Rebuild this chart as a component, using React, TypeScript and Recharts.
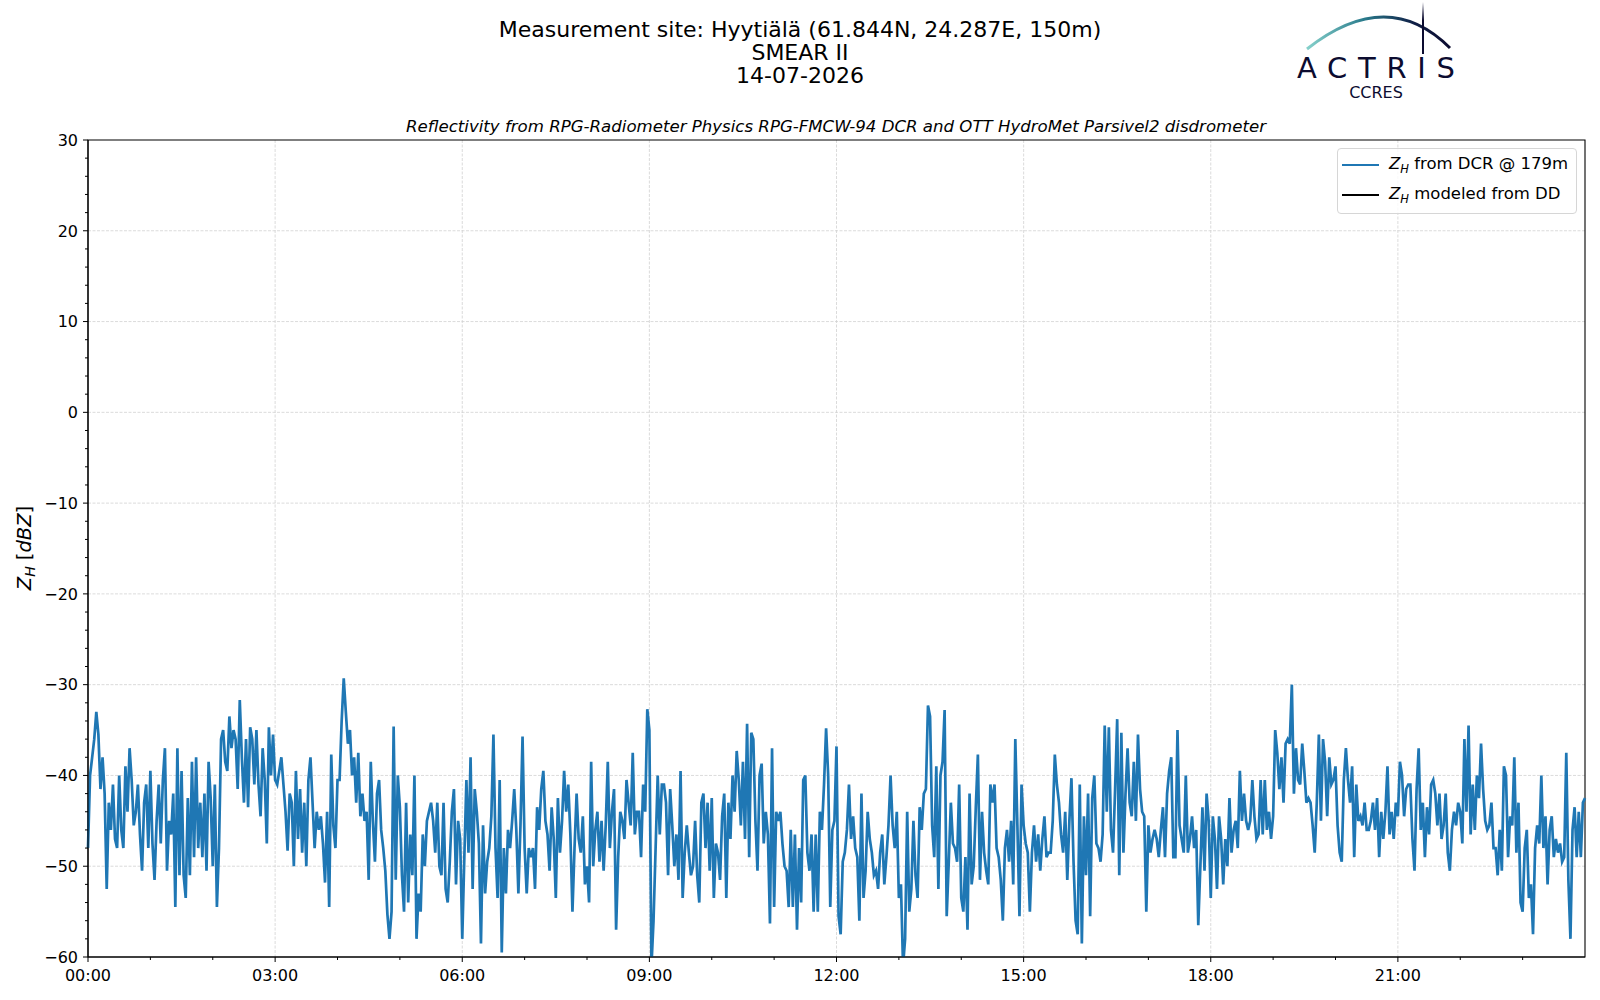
import {
  CartesianGrid,
  Legend,
  Line,
  LineChart,
  ReferenceArea,
  XAxis,
  YAxis,
} from "recharts";

// Z_H from the DCR at 179 m [dBZ], one value every 2 minutes, three hours per array
const SAMPLE_MINUTES = 2;

const dcr00to03 = [
  -48, -40, -38, -36, -33, -35.5, -41.5, -38, -42, -52.5, -43, -46, -41, -47, -48, -40, -46, -48, -39, -44, -37, -40.5, -45.5, -44, -41, -46.5, -50.5, -43, -41, -48,
  -39.5, -47.5, -51.5, -45, -41, -47.5, -40.5, -37, -50.5, -45, -46.5, -42, -54.5, -37, -51, -39.5, -51, -53.5, -42.5, -51, -38.5, -49, -38, -48, -43, -49, -42, -50.5, -38.5, -42.5,
  -50, -41, -54.5, -48, -36, -35, -38.5, -39.5, -33.5, -37, -35, -36, -41.5, -31.7, -38, -43, -36, -43.5, -34.7, -36, -41, -35, -41, -44.5, -37, -40.5, -47.5, -34.7, -40, -35.5,
];
const dcr03to06 = [
  -40.5, -41, -39.5, -38, -41, -44, -48.3, -42, -43, -50, -39.5, -47, -41.5, -48.5, -43, -50, -40.5, -38, -43, -48, -44, -46, -44.5, -47.5, -51.8, -44, -54.5, -37.7, -45.5, -48,
  -40.5, -40.5, -34, -29.3, -33, -36.5, -35, -40, -38, -43, -37.5, -44.5, -42, -45, -44, -51.5, -38.5, -45, -49.5, -42, -40.5, -46, -48, -50.5, -55.3, -58, -55, -34.6, -51.5, -40,
  -43.5, -51, -55, -43, -54, -46.5, -51, -40, -58, -53, -55, -46.5, -50, -45, -44, -43, -45, -48.5, -43, -50, -51, -43, -52.5, -54, -49.5, -44, -41.5, -52, -45, -47,
];
const dcr06to09 = [
  -58, -49, -40.5, -48.5, -38, -52.5, -41.5, -44, -47.5, -58.5, -45.5, -53, -49.5, -48, -44.5, -35.5, -48, -53.5, -40.5, -59.5, -48, -53, -46, -48, -45, -41.5, -46, -53, -45.5, -35.7,
  -48, -53, -48, -49, -48, -52.5, -43.5, -46, -41.5, -39.5, -45, -46.5, -50.5, -43.5, -47, -53.5, -42.5, -48.5, -45, -39.5, -44, -41, -46.5, -55, -48, -42, -47, -48.5, -44.5, -52,
  -50, -54, -38.5, -50, -46, -44, -49.5, -45, -50.5, -45.5, -38.5, -48, -44, -41.5, -57, -49, -44, -45, -47, -40.5, -43, -45.5, -37.5, -46.5, -44, -44, -49, -41, -44, -32.7,
];
const dcr09to12 = [
  -35, -61, -56, -48, -40, -46.5, -41, -41, -43, -51, -41.5, -45.5, -50, -46.5, -51.5, -39.5, -53.5, -48.5, -45.5, -48.5, -51, -50, -45, -51, -54, -43, -42, -48, -43, -50.5,
  -42.5, -53.5, -47.5, -48.5, -51.5, -44.5, -42, -53.5, -43, -47, -40, -44, -37.3, -40.5, -45.5, -38.5, -47, -34.3, -49, -35.3, -36, -45, -50.5, -40, -38.7, -47.5, -44, -46.5, -56.3, -37,
  -54.5, -44, -45, -44, -47.5, -50, -50.5, -54.5, -46, -54.5, -46.5, -57, -48, -54, -40.5, -40, -48.5, -50.5, -46.5, -55, -46.5, -55, -44, -46, -41, -34.8, -40, -54.5, -46, -45,
];
const dcr12to15 = [
  -36.8, -55.5, -57.5, -49.5, -48.5, -46, -41, -47, -44.5, -48, -49, -56, -42, -53.5, -50.5, -44, -47, -48.5, -51, -50.5, -52.5, -48.5, -46.5, -52, -49, -45.5, -40, -45.5, -48, -44,
  -53.5, -52, -61, -58, -44, -55, -52.5, -45, -51, -53.5, -43.5, -46, -42, -41.5, -32.3, -33.5, -45.5, -49, -39, -52.5, -40, -38.5, -32.8, -55.5, -49.5, -43, -47.5, -48, -49.5, -41,
  -53.5, -55, -49, -57, -42, -52, -50, -43.5, -37.7, -51.5, -44, -48.5, -50.5, -52, -41, -43, -41, -48, -49, -51.5, -56, -48, -46, -49.5, -45, -52, -36, -45.5, -55.5, -41,
];
const dcr15to18 = [
  -45.5, -47.5, -48.5, -55, -48.5, -45.5, -49.5, -46.5, -50.5, -47, -44.5, -49, -48.5, -48.5, -45, -37.7, -41, -43, -46.5, -48.5, -44, -51.5, -45, -40.3, -49.5, -56, -57.5, -41, -58.5, -44.5,
  -51, -42, -55.5, -42.5, -40, -47.5, -48, -49.5, -46.5, -34.5, -44, -34.7, -46, -48.5, -41.5, -33.8, -51, -35.3, -48.5, -42, -37, -43, -44.5, -38.5, -45, -35.5, -41.5, -44, -44.5, -55,
  -45.5, -48.5, -47, -46, -47, -49, -46, -43.5, -49, -42, -39.5, -38, -49, -49, -35, -45.5, -47, -48.5, -40, -48.5, -47, -44.5, -48, -46, -56.5, -50, -43.5, -50.5, -42, -45,
];
const dcr18to21 = [
  -53.5, -44.5, -47, -52.5, -44.5, -47, -52, -47, -50, -42.5, -48.5, -46, -45, -48, -39.5, -45, -42, -45, -46, -45, -40.5, -44.5, -47, -46.5, -40.5, -46.5, -40.5, -46, -44, -47,
  -44.5, -35, -37.5, -41.5, -38, -43, -36.5, -36, -36.5, -30, -42, -37, -40.5, -41, -36.5, -39.5, -43, -42.5, -43, -45.5, -48.5, -43, -35.5, -45, -36, -38.5, -44.5, -38, -41, -40.5,
  -39, -45.5, -48.5, -49.5, -40.5, -37, -40.5, -43, -39, -49, -41, -45, -44.5, -45.5, -43, -46, -46, -45, -43, -46, -42.5, -49, -44, -47, -44, -39, -46.5, -44, -47, -43,
];
// last value is the sample at 24:00
const dcr21to24 = [
  -44.5, -38.5, -40, -44.5, -41.5, -41, -41, -47, -50.5, -41.5, -37, -46, -43, -49, -43.5, -46.5, -41, -40.5, -42, -45.5, -42, -47, -45.5, -42, -48.5, -50.5, -46, -44, -45.5, -43,
  -44, -47.5, -36, -44, -34.5, -46.5, -41, -46, -40, -42.5, -36.5, -41.5, -45, -46, -45.5, -43, -48, -48, -51, -46, -50.5, -39, -40, -49, -44.5, -45.5, -38, -48.5, -43, -54,
  -55, -48, -46, -53.5, -52, -57.5, -48, -45.5, -47.5, -40, -48, -44.5, -52, -46, -44.5, -49, -47, -48.5, -47.5, -49.5, -49, -37.5, -51.5, -58, -46, -43.5, -49, -44, -49, -43,
  -42.5,
];

const dcrValues = [
  ...dcr00to03, ...dcr03to06, ...dcr06to09, ...dcr09to12,
  ...dcr12to15, ...dcr15to18, ...dcr18to21, ...dcr21to24,
];

const seriesNames = ["from DCR @ 179m", "modeled from DD"];

// minutes after midnight
const xTicks = [
  0, 60, 120, 180, 240, 300, 360, 420, 480, 540, 600, 660,
  720, 780, 840, 900, 960, 1020, 1080, 1140, 1200, 1260, 1320, 1380,
];
const xGrid = [180, 360, 540, 720, 900, 1080, 1260];
const yTicks = [
  -60, -58, -56, -54, -52, -50, -48, -46, -44, -42, -40, -38, -36, -34, -32, -30,
  -28, -26, -24, -22, -20, -18, -16, -14, -12, -10, -8, -6, -4, -2, 0,
  2, 4, 6, 8, 10, 12, 14, 16, 18, 20, 22, 24, 26, 28, 30,
];
const yGrid = [-50, -40, -30, -20, -10, 0, 10, 20];

const titleLines = [
  "Measurement site: Hyytiälä (61.844N, 24.287E, 150m)",
  "SMEAR II",
  "14-07-2026",
];
const subtitle =
  "Reflectivity from RPG-Radiometer Physics RPG-FMCW-94 DCR and OTT HydroMet Parsivel2 disdrometer";

const data = dcrValues.map((v, i) => ({ minute: i * SAMPLE_MINUTES, dcr: v, dd: null }));

const FONT = "'DejaVu Sans', sans-serif";

const hhmm = (m: number) => `${String(Math.floor(m / 60)).padStart(2, "0")}:${String(m % 60).padStart(2, "0")}`;
const minus = (v: number) => String(v).replace("-", "\u2212");

function XTick(props: any) {
  const { x, y, payload } = props;
  const top = y - 10;
  const major = payload.value % 180 === 0;
  return (
    <g>
      <line x1={x} x2={x} y1={top} y2={top + (major ? 5 : 3)} stroke="#000" strokeWidth={1} />
      {major && (
        <text x={x} y={top + 23.5} textAnchor="middle" fontSize={16} fill="#000" fontFamily={FONT}>
          {hhmm(payload.value)}
        </text>
      )}
    </g>
  );
}

function YTick(props: any) {
  const { x, y, payload } = props;
  const right = x + 10;
  const major = payload.value % 10 === 0;
  return (
    <g>
      <line x1={right - (major ? 5 : 3)} x2={right} y1={y} y2={y} stroke="#000" strokeWidth={1} />
      {major && (
        <text x={right - 10} y={y} dy="0.36em" textAnchor="end" fontSize={16} fill="#000" fontFamily={FONT}>
          {minus(payload.value)}
        </text>
      )}
    </g>
  );
}

function LegendBox(props: any) {
  const items = props.payload || [];
  return (
    <div
      style={{
        boxSizing: "border-box",
        width: 240,
        padding: "1px 6px 3px 4px",
        border: "1px solid #d6d6d6",
        borderRadius: 4,
        background: "rgba(255,255,255,0.8)",
        fontFamily: FONT,
        fontSize: 16.5,
        color: "#000",
      }}
    >
      {items.map((e: any) => (
        <div key={e.value} style={{ height: 30, display: "flex", alignItems: "center" }}>
          <span style={{ width: 37, borderTop: `2.5px solid ${e.color}`, marginRight: 10 }} />
          <span style={{ whiteSpace: "nowrap" }}>
            <i>Z</i>
            <sub style={{ fontSize: 11.5, fontStyle: "italic" }}>H</sub> {e.value}
          </span>
        </div>
      ))}
    </div>
  );
}

function Overlay() {
  return (
    <svg
      width={1600}
      height={1000}
      style={{ position: "absolute", left: 0, top: 0, pointerEvents: "none" }}
      fontFamily={FONT}
    >
      <defs>
        <linearGradient id="arc" x1="0" x2="1" y1="0" y2="0">
          <stop offset="0%" stopColor="#86d1cb" />
          <stop offset="40%" stopColor="#2a7b8c" />
          <stop offset="75%" stopColor="#0f1e45" />
          <stop offset="100%" stopColor="#0c0c30" />
        </linearGradient>
        <linearGradient id="mast" x1="0" x2="0" y1="0" y2="1">
          <stop offset="0%" stopColor="#ffffff" />
          <stop offset="35%" stopColor="#0c0c30" />
          <stop offset="100%" stopColor="#0c0c30" />
        </linearGradient>
      </defs>
      {titleLines.map((t, i) => (
        <text key={t} x={800} y={37 + i * 23} textAnchor="middle" fontSize={22} fill="#000">
          {t}
        </text>
      ))}
      <text x={836} y={132} textAnchor="middle" fontSize={16.6} fontStyle="italic" fill="#000">
        {subtitle}
      </text>
      <text transform="translate(31,548) rotate(-90)" textAnchor="middle" fontSize={19.5} fill="#000">
        <tspan fontStyle="italic">Z</tspan>
        <tspan fontStyle="italic" fontSize={14} dy={4}>H</tspan>
        <tspan dy={-4}> [</tspan>
        <tspan fontStyle="italic">dBZ</tspan>
        <tspan>]</tspan>
      </text>
      {/* ACTRIS CCRES logo */}
      <path d="M1307 49 Q1387.5 -14.5 1450 48" fill="none" stroke="url(#arc)" strokeWidth={3} />
      <rect x={1422} y={2} width={2} height={52} fill="url(#mast)" />
      <text x={1297} y={78} fontSize={29} fill="#0c0c30" textLength={158} lengthAdjust="spacing">
        ACTRIS
      </text>
      <text x={1376} y={98} textAnchor="middle" fontSize={16} fill="#0c0c30">
        CCRES
      </text>
    </svg>
  );
}

export default function App() {
  return (
    <div style={{ position: "absolute", left: 0, top: 0, width: 1600, height: 1000, background: "#fff", fontFamily: FONT }}>
      <LineChart width={1600} height={1000} data={data} margin={{ top: 140, right: 15, bottom: 13, left: 28 }}>
        <CartesianGrid
          stroke="#d2d2d2"
          strokeWidth={0.8}
          strokeDasharray="3 1.5"
          verticalValues={xGrid}
          horizontalValues={yGrid}
        />
        <XAxis
          type="number"
          dataKey="minute"
          domain={[0, 1440]}
          ticks={xTicks}
          interval={0}
          height={30}
          tickSize={5}
          tickMargin={5}
          tickLine={false}
          tick={<XTick />}
          axisLine={{ stroke: "#000", strokeWidth: 1.1 }}
        />
        <YAxis
          type="number"
          domain={[-60, 30]}
          allowDataOverflow
          ticks={yTicks}
          interval={0}
          width={60}
          tickSize={5}
          tickMargin={5}
          tickLine={false}
          tick={<YTick />}
          axisLine={{ stroke: "#000", strokeWidth: 1.1 }}
        />
        <ReferenceArea x1={0} x2={1440} y1={-60} y2={30} fill="none" stroke="#000" strokeWidth={1.1} />
        <Line
          type="linear"
          dataKey="dcr"
          name={seriesNames[0]}
          stroke="#1f77b4"
          strokeWidth={2.7}
          dot={false}
          isAnimationActive={false}
        />
        <Line
          type="linear"
          dataKey="dd"
          name={seriesNames[1]}
          stroke="#000000"
          strokeWidth={2.7}
          dot={false}
          isAnimationActive={false}
        />
        <Legend
          layout="vertical"
          align="center"
          verticalAlign="middle"
          content={<LegendBox />}
          wrapperStyle={{ left: 1337, top: 148, width: 240 }}
        />
      </LineChart>
      <Overlay />
    </div>
  );
}
